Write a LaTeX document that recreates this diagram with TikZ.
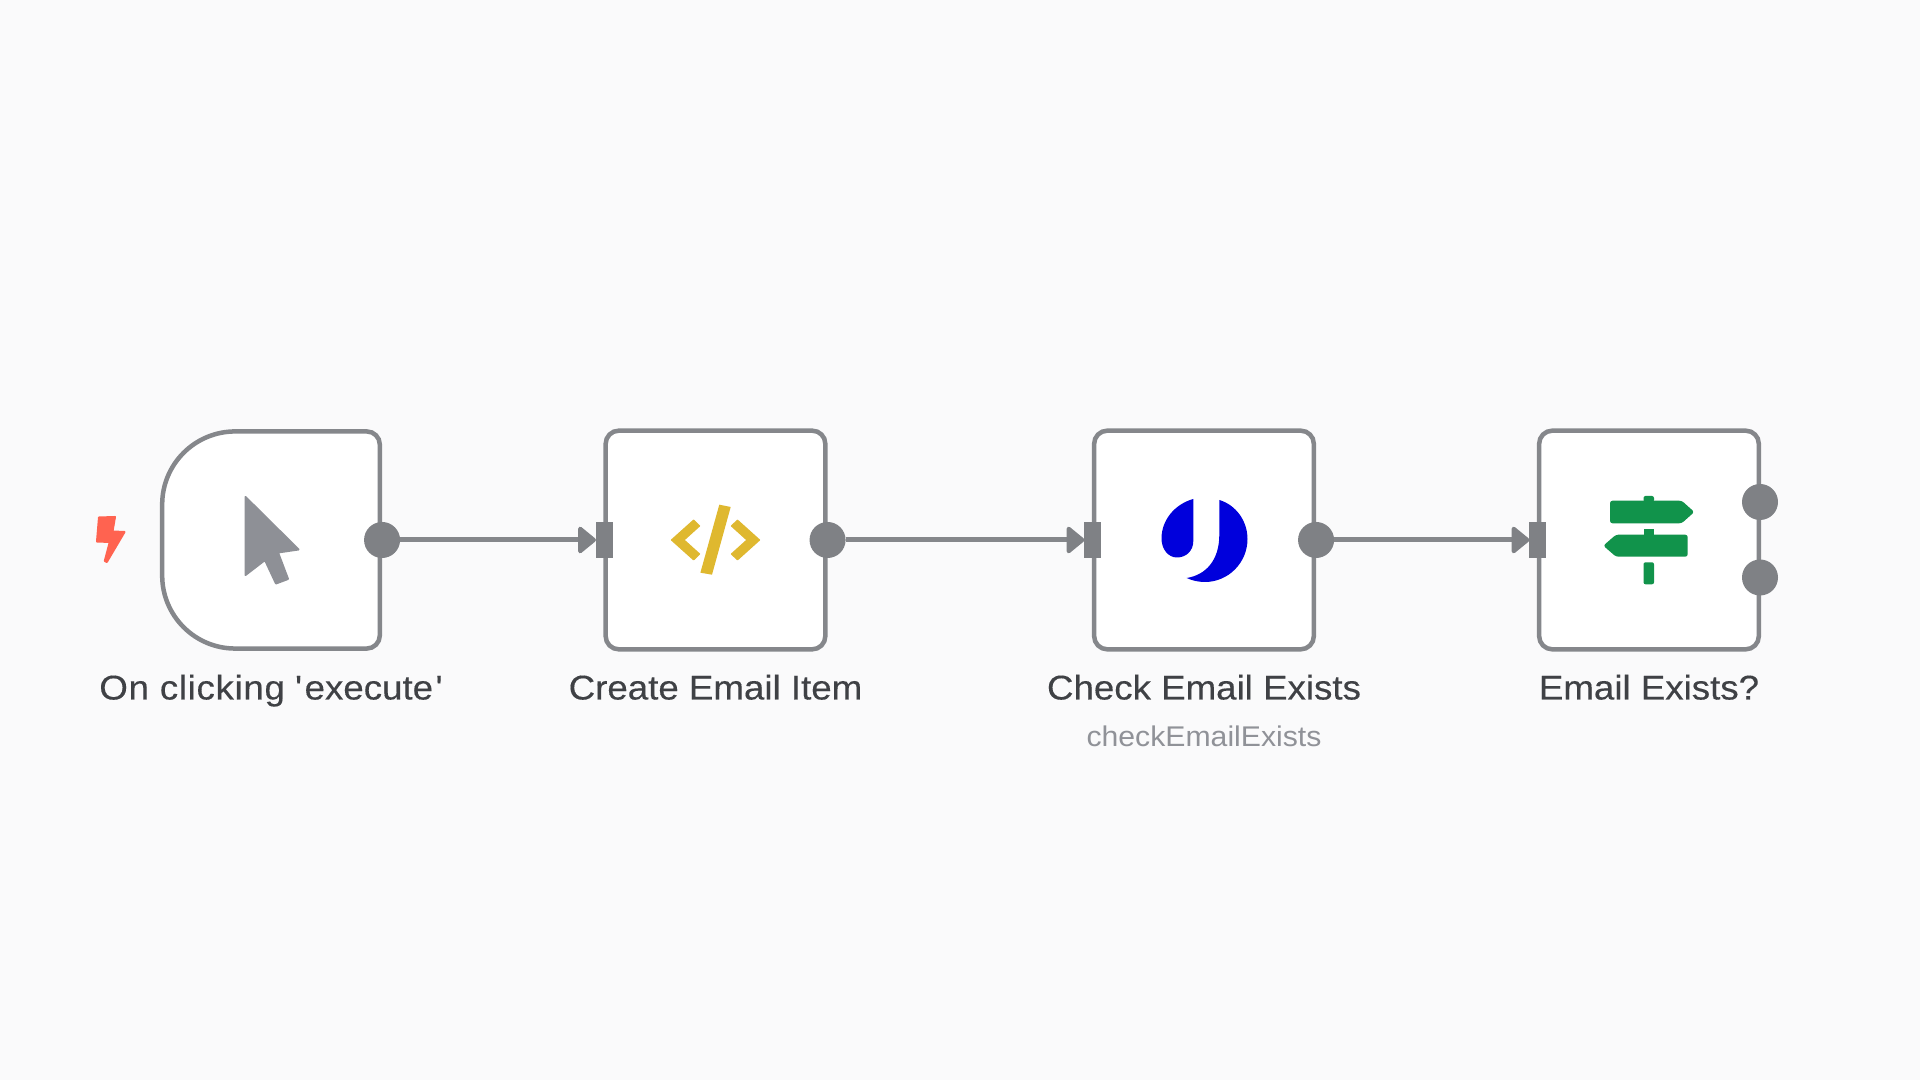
\documentclass[tikz,border=0pt]{standalone}
\usepackage{fontspec}
\setmainfont{Liberation Sans}
\newfontfamily\labelfont[FakeStretch=1.07,FakeBold=0.3]{Liberation Sans}
\newfontfamily\subfont[FakeStretch=1.06]{Liberation Sans}
\usetikzlibrary{arrows.meta}
\definecolor{bgcol}{HTML}{FAFAFB}
\definecolor{edgecol}{HTML}{85878B}
\definecolor{portcol}{HTML}{7F8185}
\definecolor{labelcol}{HTML}{3F4145}
\definecolor{subcol}{HTML}{909298}
\definecolor{cursorcol}{HTML}{8E9096}
\definecolor{boltcol}{HTML}{FF6350}
\definecolor{codecol}{HTML}{DFB82F}
\definecolor{jcol}{HTML}{0000DC}
\definecolor{signcol}{HTML}{11934B}
\tikzset{
  nodebox/.style={draw=edgecol,fill=white,line width=0.045cm,rounded corners=0.13cm,minimum width=2.195cm,minimum height=2.185cm,inner sep=0pt},
  anchorbox/.style={inner sep=0pt,outer sep=0pt,minimum width=2.175cm,minimum height=2.17cm},
  outport/.style={circle,fill=portcol,minimum size=0.36cm,inner sep=0pt,outer sep=0pt},
  inport/.style={rectangle,fill=portcol,minimum width=0.17cm,minimum height=0.35cm,inner sep=0pt,outer sep=0pt},
  wire/.style={draw=edgecol,line width=0.05cm,-{Triangle[length=0.19cm,width=0.3cm,round,color=portcol,fill=portcol,line width=0.04cm]}},
  mainlabel/.style={anchor=base,inner sep=0pt,text=labelcol,font=\labelfont\fontsize{9.75pt}{12pt}\selectfont},
  sublabel/.style={anchor=base,inner sep=0pt,text=subcol,font=\subfont\fontsize{8.1pt}{10pt}\selectfont},
  icon/.style={line join=round,line width=0.02cm},
  thinicon/.style={line join=round,line width=0.012cm}
}
\begin{document}
\begin{tikzpicture}[x=0.01cm,y=-0.01cm]
\useasboundingbox (0,0) rectangle (1920,1080);
\fill[bgcol] (0,0) rectangle (1920,1080);
% boxes
\node[anchorbox] (trigger) at (271,540) {};
\draw[draw=edgecol,fill=white,line width=0.045cm]
  ([xshift=0.73cm]trigger.south west)
  [rounded corners=0.13cm] -- (trigger.south east) -- (trigger.north east)
  [sharp corners] -- ([xshift=0.73cm]trigger.north west)
  arc[start angle=90,end angle=180,x radius=0.73cm,y radius=0.73cm]
  -- ([yshift=0.73cm]trigger.south west)
  arc[start angle=180,end angle=270,x radius=0.73cm,y radius=0.73cm] -- cycle;
\node[nodebox] (code) at (715.5,540) {};
\node[nodebox] (check) at (1204,540) {};
\node[nodebox] (ifnode) at (1649,540) {};
% ports
\node[outport] (o1) at ([xshift=0.0225cm]trigger.east) {};
\node[outport] (o2) at (code.east) {};
\node[outport] (o3) at (check.east) {};
\node[outport] (o4) at (1760,502) {};
\node[outport] (o5) at (1760,577.5) {};
\node[inport] (i2) at ([xshift=0.01cm]code.west) {};
\node[inport] (i3) at ([xshift=0.01cm]check.west) {};
\node[inport] (i4) at ([xshift=0.01cm]ifnode.west) {};
% connectors
\draw[wire] (o1) -- (i2);
\draw[wire] (o2) -- (i3);
\draw[wire] (o3) -- (i4);
% bolt
\fill[boltcol,draw=boltcol,icon] (99,517.5) -- (115,517) -- (112.5,531.5) -- (124.5,532) -- (106.8,562) -- (104.8,561) -- (109.8,542) -- (97,541.5) -- cycle;
% cursor
\fill[cursorcol,draw=cursorcol,icon] (245.5,497) -- (298.5,549.5) -- (278,552.5) -- (288,579) -- (276,583.5) -- (265,560) -- (245.5,575) -- cycle;
% code icon
\fill[codecol,draw=codecol,thinicon] (671.5,540) -- (693.6,520.2) -- (699.5,526) -- (684,540) -- (699.5,554) -- (693.6,559.8) -- cycle;
\fill[codecol,draw=codecol,thinicon] (759.5,540) -- (737.5,520.2) -- (731.5,526) -- (747,540) -- (731.5,554) -- (737.5,559.8) -- cycle;
\fill[codecol] (719.3,504.7) -- (730.7,507) -- (712,574.7) -- (700.4,572.7) -- cycle;
% J icon
\fill[jcol] (1193.3,499) .. controls (1175,504) and (1161.5,520) .. (1161.5,538.5)
  .. controls (1161.5,549) and (1168,557.5) .. (1177,557.5)
  .. controls (1186,557.5) and (1193.3,551) .. (1193.3,541) -- cycle;
\fill[jcol] (1219.3,500) .. controls (1236,505) and (1247.5,521) .. (1247.5,539)
  .. controls (1247.5,563) and (1228,582) .. (1205,582)
  .. controls (1198,582) and (1192,580.5) .. (1186.7,578)
  .. controls (1206,575) and (1219.3,560) .. (1219.3,535) -- cycle;
% sign icon
\fill[signcol,rounded corners=0.02cm] (1643.5,502) -- (1643.5,496) -- (1654,496) -- (1654,502) -- cycle;
\fill[signcol,rounded corners=0.025cm] (1610,500.7) -- (1681.7,500.7) -- (1694.3,512) -- (1681.7,523.3) -- (1610,523.3) -- cycle;
\fill[signcol] (1643.5,529) rectangle (1654,536);
\fill[signcol,rounded corners=0.025cm] (1687.7,534.7) -- (1616,534.7) -- (1603.3,545.7) -- (1616,556.7) -- (1687.7,556.7) -- cycle;
\fill[signcol,rounded corners=0.02cm] (1643.5,562.3) rectangle (1654,584.3);
% labels
\node[mainlabel] (l1) at (271,699.5) {{\addfontfeature{LetterSpace=2}On clicking} \char39\kern0.025cm execute\kern0.025cm\char39};
\node[mainlabel] (l2) at (715.5,699.5) {Create Email Item};
\node[mainlabel] (l3) at (1204,699.5) {Check Email Exists};
\node[mainlabel] (l4) at (1649,699.5) {Email Exists?};
\node[sublabel] (l5) at (1204,746.5) {checkEmailExists};
\end{tikzpicture}
\end{document}
